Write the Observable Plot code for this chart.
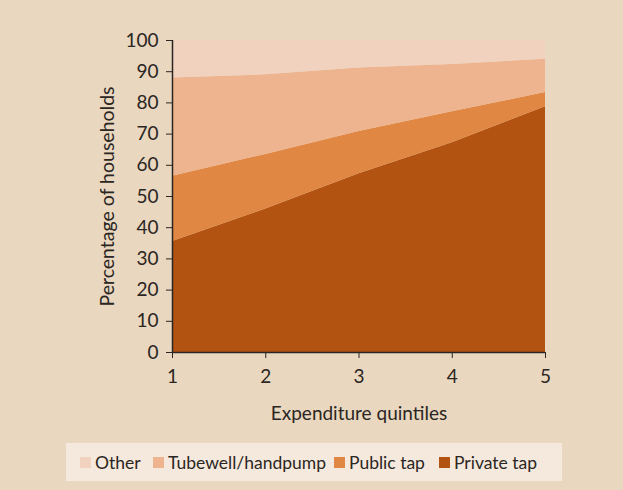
<!DOCTYPE html>
<html>
<head>
<meta charset="utf-8">
<script src="https://cdn.jsdelivr.net/npm/d3@7"></script>
<script src="https://cdn.jsdelivr.net/npm/@observablehq/plot@0.6"></script>
<style>
  html, body { margin: 0; padding: 0; background: #e9d7c0; }
  body { width: 623px; height: 490px; position: relative; overflow: hidden; font-family: Lato, "Open Sans", sans-serif; color: #2b2622; }
  #chart { position: absolute; left: 0; top: 0; }
  #legend { position: absolute; left: 66px; top: 443px; width: 496px; height: 38px; background: #f5e9dd; font-size: 17.5px; }
  .item { position: absolute; top: 0; height: 38px; display: flex; align-items: center; white-space: nowrap; }
  .sw { width: 11px; height: 11px; margin-right: 4px; }
</style>
</head>
<body>
<div id="chart"></div>
<div id="legend"></div>
<script>
const quintiles = [1, 2, 3, 4, 5];
const seriesNames = ["Private tap", "Public tap", "Tubewell/handpump", "Other"];
const privateTap = [35.6, 46.0, 57.3, 67.2, 78.8];
const publicTap = [20.9, 17.5, 13.5, 10.0, 4.5];
const tubewell = [31.5, 25.5, 20.4, 15.1, 10.7];
const other = [12.0, 11.0, 8.8, 7.7, 6.0];
const colors = ["#b35312", "#e08743", "#eeb48f", "#f0d2be"];
const yTicks = [0, 10, 20, 30, 40, 50, 60, 70, 80, 90, 100];
const legendOrder = ["Other", "Tubewell/handpump", "Public tap", "Private tap"];

const values = [privateTap, publicTap, tubewell, other];
const data = [];
seriesNames.forEach((name, i) => {
  quintiles.forEach((q, j) => data.push({ q, type: name, value: values[i][j] }));
});

const chart = Plot.plot({
  width: 623,
  height: 430,
  marginLeft: 172,
  marginRight: 78,
  marginTop: 40,
  marginBottom: 78,
  style: { background: "transparent", fontFamily: "Lato, 'Open Sans', sans-serif", fontSize: "19px", color: "#2b2622" },
  x: { domain: [1, 5] },
  y: { domain: [0, 100] },
  color: { domain: seriesNames, range: colors },
  marks: [
    Plot.areaY(data, { x: "q", y: "value", fill: "type", order: seriesNames }),
    Plot.axisX({ ticks: quintiles, tickFormat: d3.format("d"), tickSize: 6, tickPadding: 11, stroke: "#2b2622", fill: "#2b2622", label: null, fontSize: 19 }),
    Plot.axisX({ ticks: [], label: "Expenditure quintiles", labelAnchor: "center", labelArrow: "none", labelOffset: 67, fontSize: 19, fill: "#2b2622" }),
    Plot.axisY({ ticks: yTicks, tickSize: 6, tickPadding: 8, stroke: "#2b2622", fill: "#2b2622", label: null, fontSize: 19 }),
    Plot.axisY({ ticks: [], label: "Percentage of households", labelAnchor: "center", labelArrow: "none", labelOffset: 72, fontSize: 19.5, fill: "#2b2622" }),
    Plot.ruleX([1], { stroke: "#2b2622", strokeWidth: 1.5 }),
    Plot.ruleY([0], { stroke: "#2b2622", strokeWidth: 1.5 })
  ]
});
document.getElementById("chart").appendChild(chart);

const legend = document.getElementById("legend");
const legendLeft = [14, 87, 268, 373];
legendOrder.forEach((name, i) => {
  const item = document.createElement("div");
  item.className = "item";
  item.style.left = legendLeft[i] + "px";
  const sw = document.createElement("div");
  sw.className = "sw";
  sw.style.background = colors[seriesNames.indexOf(name)];
  const label = document.createElement("span");
  label.textContent = name;
  item.appendChild(sw);
  item.appendChild(label);
  legend.appendChild(item);
});
</script>
</body>
</html>
